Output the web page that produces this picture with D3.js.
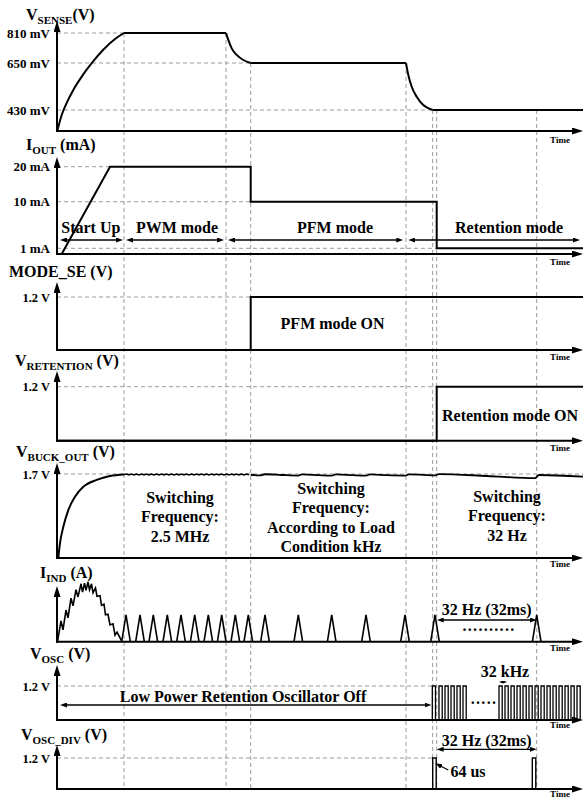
<!DOCTYPE html>
<html>
<head>
<meta charset="utf-8">
<script src="https://cdn.jsdelivr.net/npm/d3@7"></script>
<style>
  body { margin: 0; background: #fff; }
  svg text { font-family: "Liberation Serif", "Times New Roman", serif; font-weight: bold; fill: #000; white-space: pre; }
</style>
</head>
<body>
<svg width="583" height="802"></svg>
<script>
var tEnd = 526;
var guideT = [67, 169, 193.7, 349, 375.7, 379.7, 479.7];
var guideFrom = [810, 810, 650, 650, 430, 430, 430]; // V_SENSE level where each guide starts

var senseLevels = [0, 430, 650, 810];
var senseTicks = [810, 650, 430];
var senseRise = [[0.3, 0], [4.7, 328], [9.7, 463], [16.3, 524], [24.7, 586], [34.7, 649], [46, 719], [58, 778], [67, 810]];
var senseDrop1 = [[169, 810], [171.3, 773], [174.7, 728], [179.7, 693], [186.3, 666], [193.7, 650]];
var senseDrop2 = [[349, 650], [351.3, 594], [354.7, 539], [359.7, 492], [366.3, 453], [375.7, 430]];
var senseFlat = [[[67, 810], [169, 810]], [[193.7, 650], [349, 650]], [[375.7, 430], [526, 430]]];

var ioutLevels = [0, 1, 10, 20];
var ioutTicks = [20, 10, 1];
var iout = [[4.7, 0], [53, 20], [193.7, 20], [193.7, 10], [379.7, 10], [379.7, 1], [526, 1]];

var modeSe = [[0, 0], [193.7, 0], [193.7, 1.2], [526, 1.2]];
var vRet = [[0, 0], [379.7, 0], [379.7, 1.2], [526, 1.2]];

var buckRise = [[1.3, 0], [3, 0.3], [6.3, 0.63], [11.3, 0.97], [18, 1.24], [26.3, 1.44], [39.7, 1.58], [53, 1.66], [67, 1.69]];
// PWM ripple, one sample every buckStep from t = 67
var buckStep = 2.5;
var buckRipple = [1.69, 1.7, 1.68, 1.7, 1.68, 1.7, 1.68, 1.7, 1.68, 1.7, 1.68, 1.7, 1.68,
  1.7, 1.68, 1.7, 1.68, 1.7, 1.68, 1.7, 1.68, 1.7, 1.68, 1.7, 1.68, 1.7, 1.68,
  1.7, 1.68, 1.7, 1.68, 1.7, 1.68, 1.7, 1.68, 1.7, 1.68, 1.7, 1.68, 1.7, 1.68,
  1.7, 1.68, 1.7, 1.68, 1.7, 1.68, 1.7, 1.68, 1.7, 1.685];
var buckTail = [[193.7, 1.685], [203, 1.672], [208, 1.695], [225, 1.68], [241, 1.668], [245, 1.692],
  [262, 1.676], [274.7, 1.668], [279, 1.692], [296, 1.676], [309, 1.668], [313, 1.692],
  [330, 1.676], [348, 1.668], [352, 1.692], [366, 1.682], [378, 1.672], [382, 1.698],
  [430, 1.66], [478, 1.615], [482, 1.68], [526, 1.645]];

var indStart = [[0.5, 0], [4, 35], [6, 20], [9, 53], [11, 40], [14, 73], [16, 60], [19, 87], [21, 75],
  [24, 97], [25.5, 83], [27.5, 98], [29, 86], [31, 100], [32.5, 87], [34.5, 97], [36, 82],
  [38.5, 90], [40, 76], [43, 77], [44.5, 61], [47, 63], [48.5, 45], [51, 46], [53, 28],
  [56, 30], [58, 11], [60, 16], [65, 0]];
var indPeaks = [69, 83, 96.3, 110.3, 124, 137.7, 151.3, 164.7, 178.3, 191.3, 208, 241.3, 274.7, 309, 348, 378, 479.7];
var indPeakLevel = 45;
var indHalfWidth = 4.3;

var oscRise = [375.3, 382, 388, 394, 400, 406, 442, 448, 454, 460, 466, 472, 478, 484, 490, 496, 502, 508, 514, 520];
var oscHigh = 3.2;
var divRise = [375.7, 475.3];
var divHigh = 3.5;

var modeNames = ["Start Up", "PWM mode", "PFM mode", "Retention mode"];
var modeSpans = [[3, 66], [69, 167], [171, 346.3], [351.3, 523]];
var modeLabelT = [33.8, 120, 278, 452];

var svg = d3.select("svg");
var x = d3.scaleLinear().domain([0, tEnd]).range([57, 583]);

var defs = svg.append("defs");
[["head", 11, 7], ["tip", 7, 5], ["mini", 4, 3]].forEach(function(m) {
  defs.append("marker")
    .attr("id", m[0])
    .attr("markerUnits", "userSpaceOnUse")
    .attr("markerWidth", m[1])
    .attr("markerHeight", m[2])
    .attr("refX", 1)
    .attr("refY", m[2] / 2)
    .attr("orient", "auto-start-reverse")
    .append("path")
    .attr("d", "M0," + 0 + "L" + m[1] + "," + m[2] / 2 + "L0," + m[2] + "Z")
    .attr("fill", "#000");
});

var panels = [
  { name: "V", sub: "SENSE", unit: "(V)", tx: 26, ty: 20, top: 21, base: 131, dom: senseLevels, rng: [131, 110, 63, 33],
    ticks: senseTicks, fmt: function(d) { return d + " mV"; }, fs: 13, guideEnd: [67, 193.7, 375.7], timeDy: 12 },
  { name: "I", sub: "OUT", unit: " (mA)", tx: 26, ty: 150, top: 157, base: 254, dom: ioutLevels, rng: [254, 248.3, 201.7, 166.7],
    ticks: ioutTicks, fmt: function(d) { return d + " mA"; }, fs: 13, guideEnd: [193.7, 193.7, 379.7], timeDy: 11 },
  { name: "MODE_SE", sub: "", unit: " (V)", tx: 9, ty: 277, top: 282, base: 350, dom: [0, 1.2], rng: [350, 297],
    ticks: [1.2], fmt: function(d) { return d + " V"; }, fs: 12.5, guideEnd: [193.7], timeDy: 10 },
  { name: "V", sub: "RETENTION", unit: " (V)", tx: 15, ty: 366, top: 371, base: 440.7, dom: [0, 1.2], rng: [440.7, 386.7],
    ticks: [1.2], fmt: function(d) { return d + " V"; }, fs: 12.5, guideEnd: [379.7], timeDy: 10 },
  { name: "V", sub: "BUCK_OUT", unit: " (V)", tx: 16, ty: 457, top: 463, base: 558, dom: [0, 1.7], rng: [558, 474],
    ticks: [1.7], fmt: function(d) { return d + " V"; }, fs: 12.5, guideEnd: [526], timeDy: 9 },
  { name: "I", sub: "IND", unit: " (A)", tx: 40, ty: 578, top: 586, base: 641.7, dom: [0, 100], rng: [641.7, 582],
    ticks: [], fmt: String, fs: 12.5, guideEnd: [], timeDy: 9 },
  { name: "V", sub: "OSC", unit: " (V)", tx: 30, ty: 659, top: 665, base: 720, dom: [0, 1.2], rng: [720, 686],
    ticks: [1.2], fmt: function(d) { return d + " V"; }, fs: 12.5, guideEnd: [375.3], timeDy: 8 },
  { name: "V", sub: "OSC_DIV", unit: " (V)", tx: 21, ty: 740, top: 745, base: 789, dom: [0, 1.2], rng: [789, 758],
    ticks: [1.2], fmt: function(d) { return d + " V"; }, fs: 12.5, guideEnd: [375.7], timeDy: 8 }
];
panels.forEach(function(p) {
  p.y = d3.scaleLinear().domain(p.dom).range(p.rng);
});
var ySense = panels[0].y;

// vertical event guides
svg.append("g")
  .selectAll("line")
  .data(guideT)
  .enter()
  .append("line")
  .attr("x1", function(d) { return x(d); })
  .attr("x2", function(d) { return x(d); })
  .attr("y1", function(d, i) { return ySense(guideFrom[i]); })
  .attr("y2", panels[7].base)
  .attr("stroke", "#9a9a9a")
  .attr("stroke-width", 1)
  .attr("stroke-dasharray", "4,3");

function drawPath(g, data, y, curve, w) {
  g.append("path")
    .datum(data)
    .attr("d", d3.line()
      .x(function(d) { return x(d[0]); })
      .y(function(d) { return y(d[1]); })
      .curve(curve || d3.curveLinear))
    .attr("fill", "none")
    .attr("stroke", "#000")
    .attr("stroke-width", w || 2);
}

panels.forEach(function(p) {
  var g = svg.append("g");

  // level guides
  g.selectAll(".hg")
    .data(p.ticks)
    .enter()
    .append("line")
    .attr("x1", x(0))
    .attr("x2", function(d, i) { return x(p.guideEnd[i]); })
    .attr("y1", function(d) { return p.y(d); })
    .attr("y2", function(d) { return p.y(d); })
    .attr("stroke", "#9a9a9a")
    .attr("stroke-width", 1)
    .attr("stroke-dasharray", "4,3");

  var ax = g.append("g")
    .attr("transform", "translate(" + x(0) + ",0)")
    .call(d3.axisLeft(p.y).tickValues(p.ticks).tickFormat(p.fmt).tickSize(0).tickPadding(7));
  ax.select(".domain").remove();
  ax.selectAll("text").style("font-size", p.fs + "px");

  g.append("line")
    .attr("x1", x(0)).attr("x2", x(0))
    .attr("y1", p.base + 1).attr("y2", p.top + 10)
    .attr("stroke", "#000").attr("stroke-width", 2)
    .attr("marker-end", "url(#head)");
  g.append("line")
    .attr("x1", x(0) - 1).attr("x2", x(tEnd) - 10)
    .attr("y1", p.base).attr("y2", p.base)
    .attr("stroke", "#000").attr("stroke-width", 2)
    .attr("marker-end", "url(#head)");

  g.append("text")
    .attr("x", 560).attr("y", p.base + p.timeDy)
    .attr("text-anchor", "middle")
    .style("font-size", "9px")
    .text("Time");

  var t = g.append("text").attr("x", p.tx).attr("y", p.ty).style("font-size", "16px");
  t.append("tspan").text(p.name);
  if (p.sub) t.append("tspan").attr("dy", 4).style("font-size", "11px").text(p.sub);
  t.append("tspan").attr("dy", p.sub ? -4 : 0).text(p.unit);
  p.g = g;
});

// V_SENSE
var p0 = panels[0];
[senseRise, senseDrop1, senseDrop2].forEach(function(s) { drawPath(p0.g, s, p0.y, d3.curveMonotoneX); });
senseFlat.forEach(function(s) { drawPath(p0.g, s, p0.y); });

// I_OUT
drawPath(panels[1].g, iout, panels[1].y);

// MODE_SE, V_RETENTION
drawPath(panels[2].g, modeSe, panels[2].y);
drawPath(panels[3].g, vRet, panels[3].y);

// V_BUCK_OUT
var p4 = panels[4];
drawPath(p4.g, buckRise, p4.y, d3.curveMonotoneX);
drawPath(p4.g, buckRipple.map(function(v, i) { return [67 + i * buckStep, v]; }), p4.y, d3.curveLinear, 1.4);
drawPath(p4.g, buckTail, p4.y, d3.curveMonotoneX, 1.8);

// I_IND
var p5 = panels[5];
drawPath(p5.g, indStart, p5.y, d3.curveLinear, 1.6);
indPeaks.forEach(function(tp) {
  drawPath(p5.g, [[tp - indHalfWidth, 0], [tp, indPeakLevel], [tp + indHalfWidth, 0]], p5.y, d3.curveLinear, 1.6);
});

// V_OSC, V_OSC_DIV
var p6 = panels[6], p7 = panels[7];
oscRise.forEach(function(r) {
  drawPath(p6.g, [[r, 0], [r, 1.2], [r + oscHigh, 1.2], [r + oscHigh, 0]], p6.y, d3.curveLinear, 1.3);
});
divRise.forEach(function(r) {
  drawPath(p7.g, [[r, 0], [r, 1.2], [r + divHigh, 1.2], [r + divHigh, 0]], p7.y, d3.curveLinear, 1.4);
});

// annotations
var ann = svg.append("g");
function arrow(t0, t1, y, mk, w) {
  var len = mk === "tip" ? 6 : (mk === "mini" ? 3 : 10);
  ann.append("line")
    .attr("x1", x(t0) + len).attr("x2", x(t1) - len)
    .attr("y1", y).attr("y2", y)
    .attr("stroke", "#000").attr("stroke-width", w || 1.3)
    .attr("marker-start", "url(#" + mk + ")")
    .attr("marker-end", "url(#" + mk + ")");
}
function label(t, y, s, size) {
  ann.append("text")
    .attr("x", x(t)).attr("y", y)
    .attr("text-anchor", "middle")
    .style("font-size", (size || 16) + "px")
    .text(s);
}

var modeY = panels[1].y(2.6);
modeSpans.forEach(function(s, i) {
  arrow(s[0], s[1], modeY, "tip", 1.5);
  label(modeLabelT[i], 233, modeNames[i]);
});

label(275.6, 329, "PFM mode ON");
label(453, 421, "Retention mode ON");

[["Switching", "Frequency:", "2.5 MHz"], ["Switching", "Frequency:", "According to Load", "Condition kHz"], ["Switching", "Frequency:", "32 Hz"]]
  .forEach(function(lines, k) {
    var tc = [123, 274, 450][k], y0 = [503, 494, 502][k];
    lines.forEach(function(s, j) { label(tc, y0 + j * 19.3, s); });
  });

label(429.7, 615, "32 Hz (32ms)");
arrow(379.7, 479.7, 620, "tip", 1.3);
ann.append("text").attr("x", x(432)).attr("y", 631).attr("text-anchor", "middle")
  .style("font-size", "16px").style("letter-spacing", "1.3px").text("..........");

label(448, 677, "32 kHz");
arrow(442, 450, 682, "mini", 1);
label(186, 702, "Low Power Retention Oscillator Off");
arrow(3, 374.5, 705, "tip", 1.3);
ann.append("text").attr("x", x(427)).attr("y", 704).attr("text-anchor", "middle")
  .style("font-size", "16px").style("letter-spacing", "1.3px").text(".....");

label(429.7, 745.5, "32 Hz (32ms)");
arrow(379.7, 479.7, 749.3, "tip", 1.3);
label(411, 777, "64 us");
ann.append("line")
  .attr("x1", x(391.3)).attr("y1", 770)
  .attr("x2", x(383.5)).attr("y2", 766)
  .attr("stroke", "#000").attr("stroke-width", 1.3)
  .attr("marker-end", "url(#tip)");
</script>
</body>
</html>
